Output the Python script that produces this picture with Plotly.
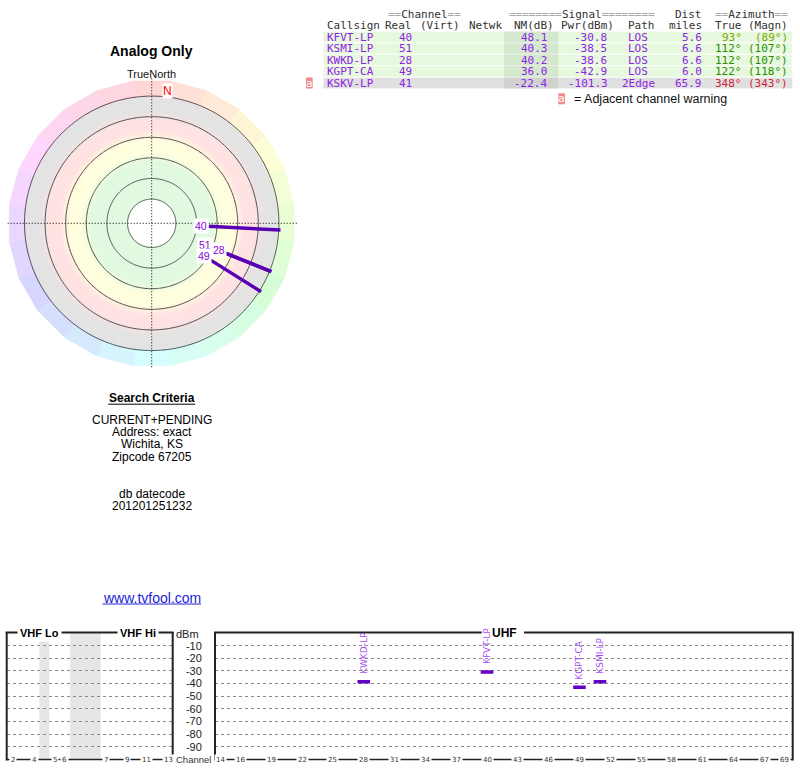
import colorsys
import numpy as np
import plotly.graph_objects as go

W, H = 800, 768

# ---------------- data ----------------
callsigns = ["KFVT-LP", "KSMI-LP", "KWKD-LP", "KGPT-CA", "KSKV-LP"]
channels = [40, 51, 28, 49, 41]
nm_db = [48.1, 40.3, 40.2, 36.0, -22.4]
pwr_dbm = [-30.8, -38.5, -38.6, -42.9, -101.3]
paths = ["LOS", "LOS", "LOS", "LOS", "2Edge"]
dist_miles = [5.6, 6.6, 6.6, 6.0, 65.9]
az_true = [93, 112, 112, 122, 348]
az_magn = [89, 107, 107, 118, 343]
adjacent_warn = [False, False, False, False, True]

dbm_ticks = [-10, -20, -30, -40, -50, -60, -70, -80, -90]
uhf_tick_channels = [14, 16, 19, 22, 25, 28, 31, 34, 37, 40, 43, 46, 49, 52, 55, 58, 61, 64, 67, 69]
vhf_tick_labels = ["2", "4", "5", "6", "7", "9", "11", "13"]
nm_ring_levels = [80, 60, 40, 20, 0, -20]

search_lines = ["CURRENT+PENDING", "Address: exact", "Wichita, KS", "Zipcode 67205"]
db_lines = ["db datecode", "201201251232"]

# ---------------- styles / layout constants ----------------
PURPLE_TXT = "#8f22e6"
PURPLE_RAY = "#5a00b4"
PURPLE_BAR = "#6400c4"
PURPLE_LBL = "#a64df0"
AZ_COLORS = ["#78a800", "#2a8c00", "#2a8c00", "#2a8c00", "#d0203c"]
SANS = "Liberation Sans"
MONO = "DejaVu Sans Mono"


def px(x):
    return x / W


def py(y):
    return 1 - y / H


shapes = []
annos = []


def text(x, y, s, size=12, color="#000", family=SANS, xa="center", ya="middle", **kw):
    annos.append(dict(x=px(x), y=py(y), xref="paper", yref="paper", text=s, showarrow=False,
                      font=dict(size=size, color=color, family=family),
                      xanchor=xa, yanchor=ya, **kw))


def rect(x0, y0, x1, y1, fill, lw=0, lc="rgba(0,0,0,0)", layer="below"):
    shapes.append(dict(type="rect", xref="paper", yref="paper", x0=px(x0), x1=px(x1),
                       y0=py(y1), y1=py(y0), fillcolor=fill, line=dict(width=lw, color=lc),
                       layer=layer))


def seg(x0, y0, x1, y1, color="#222", width=2):
    shapes.append(dict(type="line", xref="paper", yref="paper", x0=px(x0), x1=px(x1),
                       y0=py(y0), y1=py(y1), line=dict(color=color, width=width), layer="above"))


fig = go.Figure()

# ================= POLAR (azimuth / noise-margin) =================
CX, CY = 151.7, 223.3
PX_PER_DB = 1.03
NM_CENTER = 103.5
R_DOMAIN_PX = 146.0
R_MAX_U = R_DOMAIN_PX / PX_PER_DB


def nm_to_u(nm):
    return NM_CENTER - nm


def pxr_to_u(rp):
    return rp / PX_PER_DB


def polar_px(r_px, az):
    a = np.radians(az)
    return CX + r_px * np.sin(a), CY - r_px * np.cos(a)


# hue ring (faceted)
N_SEG = 24
half = 180.0 / N_SEG
for k in range(N_SEG):
    c = k * 360.0 / N_SEG
    r, g, b = colorsys.hls_to_rgb((c % 360) / 360.0, 0.92, 1.0)
    col = f"rgb({int(r*255)},{int(g*255)},{int(b*255)})"
    th_in = list(np.linspace(c - half, c + half, 9))
    r_out = pxr_to_u(143.6)
    rr = [pxr_to_u(126.5)] * len(th_in) + [r_out, r_out, pxr_to_u(126.5)]
    tt = th_in + [c + half, c - half, c - half]
    fig.add_trace(go.Scatterpolar(r=rr, theta=tt, mode="lines", fill="toself",
                                  fillcolor=col, line=dict(color=col, width=0.6),
                                  hoverinfo="skip", showlegend=False))

# signal-zone gradient rings
stops = [(23.5, (224, 249, 224)), (60, (224, 249, 224)), (71, (255, 255, 222)), (82, (255, 255, 222)),
         (93, (255, 226, 226)), (103, (255, 226, 226)), (113, (227, 227, 227)), (129, (227, 227, 227))]


def grad(rp):
    for (r0, c0), (r1, c1) in zip(stops[:-1], stops[1:]):
        if r0 <= rp <= r1:
            t = (rp - r0) / (r1 - r0)
            return "rgb(%d,%d,%d)" % tuple(int(a + (b - a) * t) for a, b in zip(c0, c1))
    return "rgb(227,227,227)"


bases, lens, cols = [0.0], [pxr_to_u(24.5)], ["white"]
for rp in np.arange(23.5, 127.5, 1.0):
    bases.append(pxr_to_u(rp))
    lens.append(pxr_to_u(1.5))
    cols.append(grad(rp + 0.5))
fig.add_trace(go.Barpolar(r=lens, base=bases, theta=[0] * len(bases), width=[360] * len(bases),
                          marker=dict(color=cols, line=dict(width=0)), hoverinfo="skip",
                          showlegend=False))

# ring circles at noise-margin levels
cr, ct = [], []
for lvl in nm_ring_levels:
    th = list(np.linspace(0, 360, 361))
    cr += [nm_to_u(lvl)] * len(th) + [None]
    ct += th + [None]
fig.add_trace(go.Scatterpolar(r=cr, theta=ct, mode="lines", line=dict(color="#505050", width=1),
                              hoverinfo="skip", showlegend=False))

# dotted crosshair
RC = pxr_to_u(145)
fig.add_trace(go.Scatterpolar(r=[RC, RC, None, RC, RC], theta=[0, 180, None, 90, 270], mode="lines",
                              line=dict(color="#000", width=1, dash="1px,2px"),
                              hoverinfo="skip", showlegend=False))

# station rays (stations with positive noise margin), labels pushed apart if they collide
RAY_END_PX = 129.0
order = sorted([i for i in range(len(callsigns)) if nm_db[i] > 0], key=lambda i: -nm_db[i])
placed = []
for i in order:
    start_px = nm_to_u(nm_db[i]) * PX_PER_DB
    lab_r = start_px - 7.5
    for (paz, pr) in placed:
        if abs(paz - az_true[i]) < 4 and abs(pr - lab_r) < 13:
            lab_r = pr + 15
            start_px = lab_r + 7.5
    placed.append((az_true[i], lab_r))
    fig.add_trace(go.Scatterpolar(r=[pxr_to_u(start_px), pxr_to_u(RAY_END_PX)],
                                  theta=[az_true[i], az_true[i]], mode="lines",
                                  line=dict(color=PURPLE_RAY, width=3.5),
                                  hoverinfo="skip", showlegend=False))
    lx, ly = polar_px(lab_r, az_true[i])
    text(lx, ly, str(channels[i]), size=10.5, color="#8a00e0", bgcolor="white", borderpad=1)

# magnetic north marker (left edge on the magnetic-north bearing)
decl = float(np.mean(np.array(az_true) - np.array(az_magn)))
nx, ny = polar_px(133, decl)
text(nx, ny, "N", size=12, color="#ff0000", bgcolor="white", borderpad=0, xa="left")

fig.update_layout(polar=dict(
    domain=dict(x=[px(CX - R_DOMAIN_PX), px(CX + R_DOMAIN_PX)],
                y=[py(CY + R_DOMAIN_PX), py(CY - R_DOMAIN_PX)]),
    radialaxis=dict(range=[0, R_MAX_U], visible=False),
    angularaxis=dict(rotation=90, direction="clockwise", visible=False),
    bgcolor="rgba(0,0,0,0)", barmode="overlay"))

text(CX, 51, "<b>Analog Only</b>", size=14, color="#000")
text(CX, 74.3, "TrueNorth", size=11, color="#111")

# ================= left text block =================
text(CX, 397.5, "<b>Search Criteria</b>", size=12)
seg(108.3, 404.2, 195.2, 404.2, color="#000", width=1)
for k, s in enumerate(search_lines):
    text(CX, 419.5 + k * 12.4, s, size=12, borderpad=0)
for k, s in enumerate(db_lines):
    text(CX, 494 + k * 12.4, s, size=12, borderpad=0)
text(CX, 598, "www.tvfool.com", size=14, color="#2323d8")
seg(102.5, 604, 201, 604, color="#2323d8", width=1)

# ================= station table =================
ROW_TOP, ROW_H = 31.3, 11.5
TX0, TX1 = 323, 792.7
for r in range(len(callsigns)):
    y0 = ROW_TOP + r * ROW_H
    fill = "#e0e0e0" if adjacent_warn[r] else "#e6f8de"
    rect(TX0, y0, TX1, y0 + ROW_H, fill, lw=1, lc="rgba(255,255,255,0.75)")
rect(504, ROW_TOP, 558.3, ROW_TOP + len(callsigns) * ROW_H, "rgba(0,40,0,0.075)")

HDR = "#333"
EQ = "#a8a8a8"


def eqs(n):
    return f'<span style="color:{EQ}">' + "=" * n + "</span>"


def cell(x, y, s, color, xa):
    text(x, y, s, size=11, family=MONO, color=color, xa=xa, borderpad=0)


y1, y2 = 14.8, 25.7
cell(387.3, y1, eqs(2) + "Channel" + eqs(2), HDR, "left")
cell(581.5, y1, eqs(8) + "Signal" + eqs(8), HDR, "center")
cell(703.3, y1, "Dist", HDR, "right")
cell(789.3, y1, eqs(2) + "Azimuth" + eqs(2), HDR, "right")

cell(326, y2, "Callsign", HDR, "left")
cell(413.3, y2, "Real", HDR, "right")
cell(419, y2, "(Virt)", HDR, "left")
cell(467.7, y2, "Netwk", HDR, "left")
cell(555, y2, "NM(dB)", HDR, "right")
cell(615, y2, "Pwr(dBm)", HDR, "right")
cell(656, y2, "Path", HDR, "right")
cell(703.3, y2, "miles", HDR, "right")
cell(743.3, y2, "True", HDR, "right")
cell(789.3, y2, "(Magn)", HDR, "right")

NB = "\u00a0"
for r in range(len(callsigns)):
    yc = ROW_TOP + (r + 0.5) * ROW_H
    cell(326, yc, callsigns[r], PURPLE_TXT, "left")
    cell(413.3, yc, str(channels[r]), PURPLE_TXT, "right")
    cell(555, yc, f"{nm_db[r]:.1f}" + NB, PURPLE_TXT, "right")
    cell(615, yc, f"{pwr_dbm[r]:.1f}" + NB, PURPLE_TXT, "right")
    cell(656, yc, paths[r] + (NB if len(paths[r]) < 5 else ""), PURPLE_TXT, "right")
    cell(703.3, yc, f"{dist_miles[r]:.1f}", PURPLE_TXT, "right")
    cell(743.3, yc, f"{az_true[r]}°", AZ_COLORS[r], "right")
    cell(789.3, yc, f"({az_magn[r]}°)", AZ_COLORS[r], "right")
    if adjacent_warn[r]:
        rect(306, yc - 5.5, 312.7, yc + 5.5, "#f08a8a")
        cell(309.4, yc, "a", "white", "center")

rect(558.3, 93.3, 565, 104.3, "#f08a8a")
cell(561.7, 98.6, "a", "white", "center")
text(571.5, 98.8, "= Adjacent channel warning", size=12.5, color="#111", xa="left")

# ================= spectrum chart =================
Y_TOP, Y_BOT = 633.0, 759.6
VHF_L, VHF_R = 6.7, 172.7
UHF_L, UHF_R = 215.0, 792.7
PX_PER_CH = 10.27
CH14_PX = 220.0
ch_lo = 14 + (UHF_L - CH14_PX) / PX_PER_CH
ch_hi = 14 + (UHF_R - CH14_PX) / PX_PER_CH

grid = dict(showgrid=True, gridcolor="#8a8a8a", griddash="dot", gridwidth=1, zeroline=False)
fig.update_layout(
    xaxis=dict(domain=[px(VHF_L), px(VHF_R)], range=[0, VHF_R - VHF_L], showticklabels=False,
               showgrid=False, zeroline=False, showline=False, ticks=""),
    yaxis=dict(domain=[py(Y_BOT), py(Y_TOP)], range=[-100, 0], tickvals=dbm_ticks,
               showticklabels=False, ticks="", showline=False, **grid),
    xaxis2=dict(domain=[px(UHF_L), px(UHF_R)], range=[ch_lo, ch_hi], anchor="y2",
                showticklabels=False, showgrid=False, zeroline=False, showline=False, ticks=""),
    yaxis2=dict(domain=[py(Y_BOT), py(Y_TOP)], range=[-100, 0], anchor="x2", tickvals=dbm_ticks,
                ticktext=[str(v) for v in dbm_ticks], showticklabels=True, ticks="outside",
                ticklen=10, tickcolor="rgba(0,0,0,0)", showline=False,
                tickfont=dict(family=SANS, size=11, color="#222"), **grid),
)

fig.add_trace(go.Scatter(x=[None], y=[None], xaxis="x", yaxis="y", showlegend=False, hoverinfo="skip"))

# VHF gap bands (ch4/5 gap and FM band)
for a, b in [(39.3, 49.3), (70.0, 100.7)]:
    shapes.append(dict(type="rect", xref="x", yref="y", x0=a - VHF_L, x1=b - VHF_L, y0=-100, y1=0,
                       fillcolor="#e6e6e6", line=dict(width=0), layer="below"))

# UHF stations
fig.add_trace(go.Scatter(x=channels, y=pwr_dbm, xaxis="x2", yaxis="y2", mode="markers",
                         marker=dict(symbol="line-ew", size=9,
                                     line=dict(color=PURPLE_BAR, width=3.5)),
                         cliponaxis=True, hoverinfo="skip", showlegend=False))
for i in range(len(callsigns)):
    if pwr_dbm[i] > -100:
        annos.append(dict(x=channels[i], y=pwr_dbm[i], xref="x2", yref="y2", text=callsigns[i],
                          textangle=-90, showarrow=False, xanchor="center", yanchor="bottom",
                          yshift=6, font=dict(family="DejaVu Sans", size=9, color=PURPLE_LBL)))

# frames
seg(VHF_L, 632, VHF_L, 760.5)
seg(VHF_R, 632, VHF_R, 760.5)
seg(VHF_L - 1, 632.5, VHF_R + 1, 632.5)
seg(UHF_L, 632, UHF_L, 760.5)
seg(UHF_R, 632, UHF_R, 760.5)
seg(UHF_L - 1, 632.5, 481.7, 632.5)
seg(524, 632.5, UHF_R + 1, 632.5)
seg(VHF_L, Y_BOT, VHF_R, Y_BOT, width=1.5)
seg(UHF_L, Y_BOT, UHF_R, Y_BOT, width=1.5)

text(39, 633, "<b>VHF Lo</b>", size=11, color="#000", bgcolor="white", borderpad=2)
text(138, 633, "<b>VHF Hi</b>", size=11, color="#000", bgcolor="white", borderpad=2)
text(504, 633, "<b>UHF</b>", size=12, color="#000")
text(200.5, 634, "dBm", size=11, color="#222", xa="right")
text(193.7, 759.6, "Channel", size=9.5, color="#333", bgcolor="white", borderpad=0)

vhf_tick_px = [12.7, 34.3, 55, 64, 106, 126.7, 146, 168]
for lab, xp in zip(vhf_tick_labels, vhf_tick_px):
    annos.append(dict(x=xp - VHF_L, y=-100, xref="x", yref="y", text=lab, showarrow=False,
                      xanchor="center", yanchor="middle", bgcolor="white", borderpad=1,
                      font=dict(family="DejaVu Sans", size=7, color="#333")))
for ch in uhf_tick_channels:
    annos.append(dict(x=ch, y=-100, xref="x2", yref="y2", text=str(ch), showarrow=False,
                      xanchor="center", yanchor="middle", bgcolor="white", borderpad=1,
                      font=dict(family="DejaVu Sans", size=7, color="#333")))

fig.update_layout(width=W, height=H, margin=dict(l=0, r=0, t=0, b=0, pad=0),
                  paper_bgcolor="white", plot_bgcolor="white", showlegend=False,
                  hovermode=False, shapes=shapes, annotations=annos)

fig.write_html("out.html", config={"displayModeBar": False},
               post_script="document.body.style.margin='0';document.body.style.overflow='hidden';")
